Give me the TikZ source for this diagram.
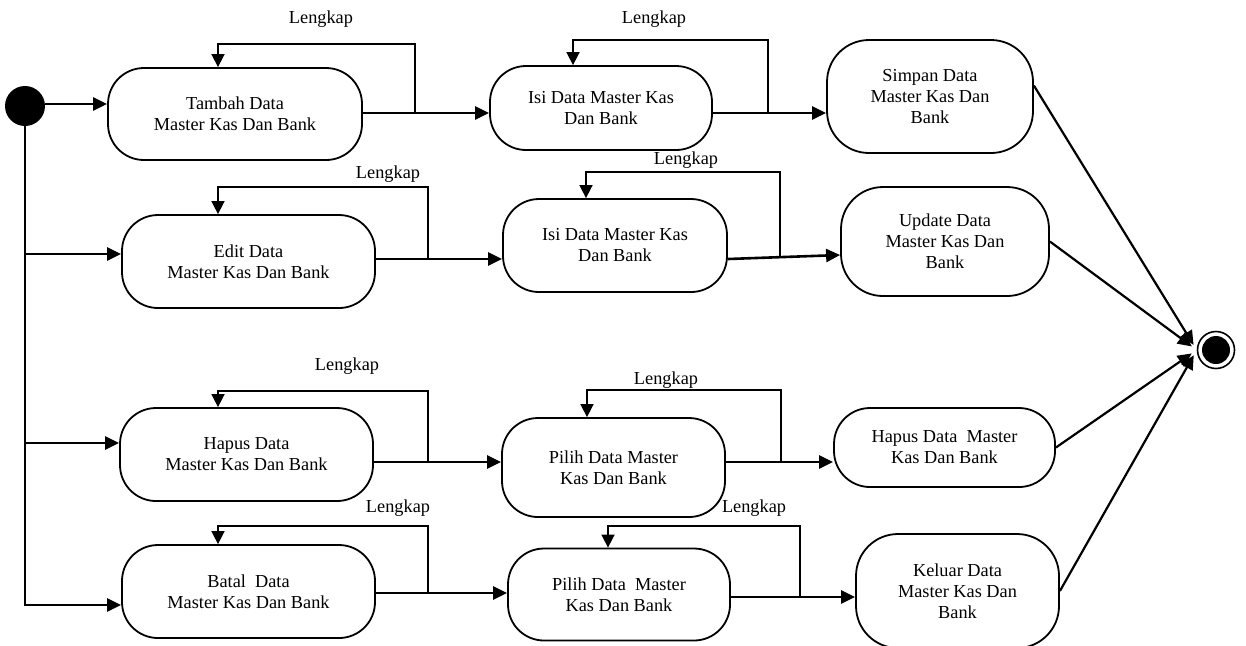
\documentclass[tikz,border=0pt]{standalone}
\usepackage{fontspec}
\setmainfont{Liberation Serif}
\usetikzlibrary{arrows.meta}
\newcommand\lab{\fontsize{9.15}{10.5}\selectfont}
\begin{document}
\begin{tikzpicture}[x=0.5pt,y=-0.5pt,
  act/.style={draw, line width=0.9pt, rounded corners=18pt, align=center, inner sep=0pt, font=\lab},
  flow/.style={line width=1.3pt, -{Triangle[length=7pt,width=6.5pt]}},
  back/.style={line width=0.8pt, -{Triangle[length=6.5pt,width=6.5pt]}},
  toend/.style={line width=1.1pt, shorten >=3pt, -{Triangle[length=7pt,width=6.5pt]}},
  lbl/.style={font=\lab, inner sep=0pt},
]
\useasboundingbox (0,0) rectangle (1246,645);

% states
\node[circle, fill, minimum size=20pt, inner sep=0pt] (init) at (25,106) {};
\node[act, minimum width=127pt, minimum height=46pt] (tambah) at (235,114) {Tambah Data\\Master Kas Dan Bank};
\node[act, minimum width=111pt, minimum height=42pt] (isi1) at (601,108) {Isi Data Master Kas\\Dan Bank};
\node[act, rounded corners=21pt, minimum width=103pt, minimum height=56.5pt] (simpan) at (930,96.5) {Simpan Data\\Master Kas Dan\\Bank};
\node[act, minimum width=126.5pt, minimum height=46.5pt] (edit) at (248.5,261.5) {Edit Data\\Master Kas Dan Bank};
\node[act, minimum width=112pt, minimum height=46.5pt] (isi2) at (615,245.5) {Isi Data Master Kas\\Dan Bank};
\node[act, rounded corners=21pt, minimum width=104pt, minimum height=54.5pt] (update) at (945,241.5) {Update Data\\Master Kas Dan\\Bank};
\node[act, minimum width=126.5pt, minimum height=46.5pt] (hapus) at (246.5,454.5) {Hapus Data\\Master Kas Dan Bank};
\node[act, minimum width=111.5pt, minimum height=49.5pt] (pilih1) at (613.5,467.5) {Pilih Data Master\\Kas Dan Bank};
\node[act, minimum width=110.5pt, minimum height=39.5pt] (hapus2) at (944.5,447.5) {Hapus Data\ \ Master\\Kas Dan Bank};
\node[act, minimum width=126.5pt, minimum height=46.5pt] (batal) at (248.5,591.5) {Batal\ \ Data\\Master Kas Dan Bank};
\node[act, minimum width=111pt, minimum height=46pt] (pilih2) at (619,594.5) {Pilih Data\ \ Master\\Kas Dan Bank};
\node[act, rounded corners=21pt, minimum width=101.5pt, minimum height=57pt] (keluar) at (957.5,591) {Keluar Data\\Master Kas Dan\\Bank};
\node[circle, draw, line width=0.8pt, minimum size=18.5pt, inner sep=0pt] (fin) at (1216,350) {};
\node[circle, fill, minimum size=14pt, inner sep=0pt] (findot) at (fin) {};

% labels
\node[lbl] (l1) at (321,19) {Lengkap};
\node[lbl] (l2) at (654,19) {Lengkap};
\node[lbl] (l3) at (388,174) {Lengkap};
\node[lbl] (l4) at (686,160) {Lengkap};
\node[lbl] (l5) at (347,366) {Lengkap};
\node[lbl] (l6) at (666,380) {Lengkap};
\node[lbl] (l7) at (398,508) {Lengkap};
\node[lbl] (l8) at (754,508) {Lengkap};

% junctions and loop corners
\coordinate (j1) at (415,113); \coordinate (c1) at (218,44);
\coordinate (j2) at (768,113); \coordinate (c2) at (573,40);
\coordinate (j3) at (428,259); \coordinate (c3) at (218,187);
\coordinate (j4) at (780,257); \coordinate (c4) at (586,172);
\coordinate (j5) at (428,462); \coordinate (c5) at (218,391);
\coordinate (j6) at (781,462); \coordinate (c6) at (587,390);
\coordinate (j7) at (428,593); \coordinate (c7) at (218,526);
\coordinate (j8) at (800,597); \coordinate (c8) at (608,526);

% from start
\draw[flow] (init.east |- 0,104) -- (tambah.west |- 0,104);
\draw[flow] (init.south) |- (batal.west |- 0,605);
\draw[flow] (init.south |- 0,254) -- (edit.west |- 0,254);
\draw[flow] (init.south |- 0,443) -- (hapus.west |- 0,443);

% row 1
\draw[flow] (tambah.east |- j1) -- (isi1.west |- j1);
\draw[back] (j1) |- (c1) -- (c1 |- tambah.north);
\draw[flow] (isi1.east |- j2) -- (simpan.west |- j2);
\draw[back] (j2) |- (c2) -- (c2 |- isi1.north);

% row 2
\draw[flow] (edit.east |- j3) -- (isi2.west |- j3);
\draw[back] (j3) |- (c3) -- (c3 |- edit.north);
\draw[flow] (isi2.east |- 0,259) -- (update.west |- 0,255);
\draw[back] (j4) |- (c4) -- (c4 |- isi2.north);

% row 3
\draw[flow] (hapus.east |- j5) -- (pilih1.west |- j5);
\draw[back] (j5) |- (c5) -- (c5 |- hapus.north);
\draw[flow] (pilih1.east |- j6) -- (hapus2.west |- j6);
\draw[back] (j6) |- (c6) -- (c6 |- pilih1.north);

% row 4
\draw[flow] (batal.east |- j7) -- (pilih2.west |- j7);
\draw[back] (j7) |- (c7) -- (c7 |- batal.north);
\draw[flow] (pilih2.east |- j8) -- (keluar.west |- j8);
\draw[back] (j8) |- (c8) -- (c8 |- pilih2.north);

% to final
\draw[toend] (simpan.6) -- (fin.west);
\draw[toend] (update.east) -- (fin.west);
\draw[toend] (hapus2.east) -- (fin.west);
\draw[toend] (keluar.east) -- (fin.west);
\end{tikzpicture}
\end{document}
